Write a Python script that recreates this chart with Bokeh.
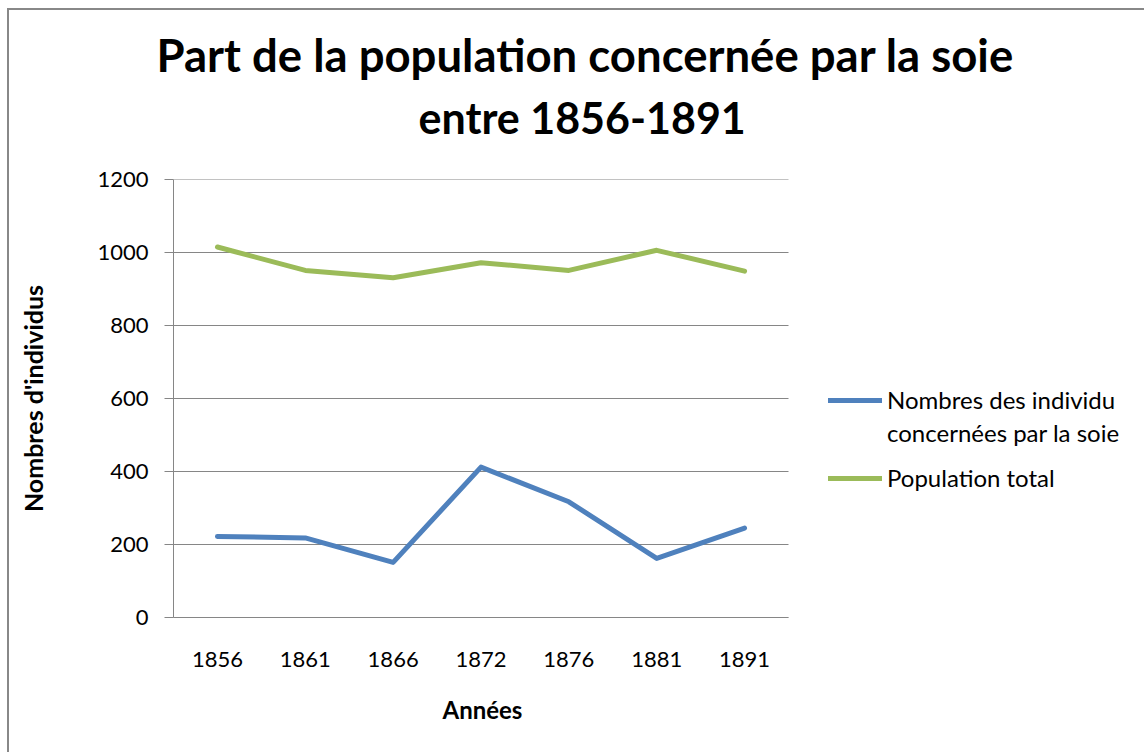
from bokeh.plotting import figure
from bokeh.models import (Range1d, FixedTicker, Title, Legend, LegendItem)
from bokeh.embed import file_html
from bokeh.resources import INLINE

years = ["1856", "1861", "1866", "1872", "1876", "1881", "1891"]
soie = [222, 218, 151, 412, 317, 162, 245]
population = [1015, 951, 931, 972, 951, 1006, 949]
y_ticks = [0, 200, 400, 600, 800, 1000, 1200]
title_lines = ["Part de la population concernée par  la soie", "entre 1856-1891"]
x_title = "Années"
y_title = "Nombres d'individus"
series_names = ["Nombres des individu", "concernées par la soie", "Population total"]

FONT = "Lato"
GRID = "#868686"
BLUE = "#4F81BD"
GREEN = "#9BBB59"

W, H = 1137, 744
BORDER_L, BORDER_T, BORDER_B = 164, 169, 137
PLOT_W = 615                      # width of the category area
FRAME_W = W - BORDER_L            # frame extends to the right edge (legend lives there)

n = len(years)
xpos = list(range(n))
x_end = -0.5 + n * FRAME_W / PLOT_W

p = figure(width=W, height=H, output_backend="svg", toolbar_location=None,
           x_range=Range1d(-0.5, x_end), y_range=Range1d(0, 1200),
           min_border_left=BORDER_L, min_border_right=0, min_border_top=BORDER_T,
           min_border_bottom=BORDER_B, title=None)
p.styles = {"margin-left": "7px", "margin-top": "8px",
            "border-left": "2px solid #888888", "border-top": "2px solid #888888"}
p.outline_line_color = None
p.background_fill_color = "white"
p.border_fill_color = "white"
p.xgrid.visible = False
p.ygrid.visible = False

# horizontal gridlines over the category area only
p.segment(x0=-0.5, x1=n - 0.5, y0=y_ticks, y1=y_ticks, line_color=GRID, line_width=1)

r_soie = p.line(xpos, soie, line_color=BLUE, line_width=5, line_cap="round", line_join="round")
r_pop = p.line(xpos, population, line_color=GREEN, line_width=5, line_cap="round", line_join="round")
r_dummy = p.line([], [], line_alpha=0)

p.yaxis.ticker = FixedTicker(ticks=y_ticks)
p.xaxis.ticker = FixedTicker(ticks=xpos)
p.xaxis.major_label_overrides = {i: y for i, y in zip(xpos, years)}
p.xaxis.bounds = (-0.5, n - 0.5)

for ax in (p.xaxis[0], p.yaxis[0]):
    ax.axis_line_color = GRID
    ax.axis_line_width = 1
    ax.major_label_text_font = FONT
    ax.major_label_text_font_size = "22px"
    ax.major_label_text_color = "black"
    ax.axis_label_text_font = FONT
    ax.axis_label_text_font_style = "bold"
    ax.axis_label_text_color = "black"
    ax.minor_tick_line_color = None

p.xaxis.major_tick_line_color = None
p.xaxis.major_label_standoff = 28

p.yaxis.major_tick_line_color = GRID
p.yaxis.major_tick_out = 9
p.yaxis.major_tick_in = 0
p.yaxis.major_label_standoff = 16
p.yaxis.axis_label = y_title
p.yaxis.axis_label_text_font_size = "25px"
p.yaxis.axis_label_standoff = 46

# x-axis title centred under the category area
xt = Title(text=x_title, align="left", offset=269, standoff=46,
           text_font=FONT, text_font_style="bold", text_font_size="24px", text_color="black")
p.add_layout(xt, "below")

spacer = Title(text=" ", text_font_size="2px", standoff=25.7)
t2 = Title(text=title_lines[1], align="left", offset=245, standoff=13.4,
           text_font=FONT, text_font_style="bold", text_font_size="43px", text_color="black")
t1 = Title(text=title_lines[0], align="left", offset=-17, standoff=4,
           text_font=FONT, text_font_style="bold", text_font_size="45.5px", text_color="black")
p.add_layout(spacer, "above")
p.add_layout(t2, "above")
p.add_layout(t1, "above")

def make_legend(items, loc):
    return Legend(items=items, location=loc, orientation="vertical",
                  glyph_width=54, glyph_height=20, label_standoff=5, label_height=33,
                  spacing=0, padding=0, margin=0, border_line_color=None,
                  background_fill_alpha=0, label_text_font=FONT,
                  label_text_font_size="24px", label_text_color="black")

lg1 = make_legend([LegendItem(label=series_names[0], renderers=[r_soie]),
                   LegendItem(label=series_names[1], renderers=[r_dummy])], (655, 168))
lg2 = make_legend([LegendItem(label=series_names[2], renderers=[r_pop])], (655, 123))
p.add_layout(lg1, "center")
p.add_layout(lg2, "center")

open("out.html", "w").write(file_html(p, INLINE))
